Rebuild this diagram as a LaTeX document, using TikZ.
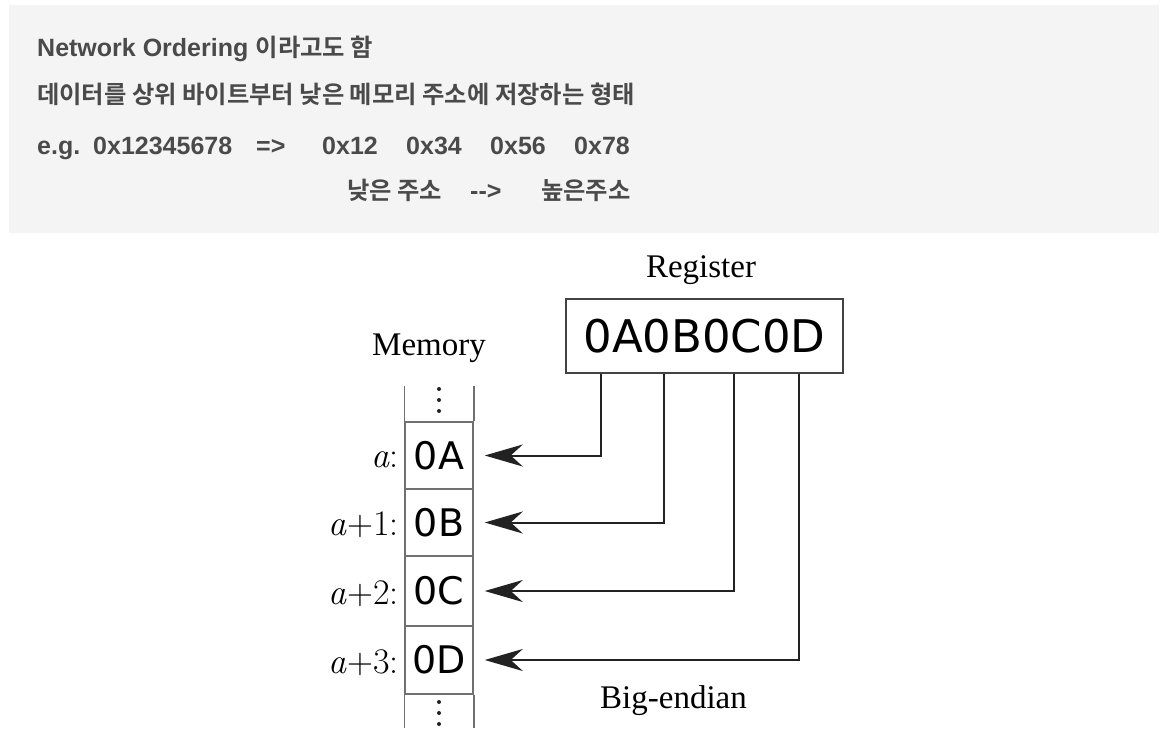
\documentclass[tikz,border=0pt]{standalone}
\usepackage{fontspec}
\usetikzlibrary{arrows.meta}
\newfontfamily\latf{Liberation Sans}
\newfontfamily\krf{Noto Sans CJK KR Bold}
\newfontfamily\serf{Liberation Serif}
\newfontfamily\djv{DejaVu Sans}
\definecolor{txt}{HTML}{4A4A4A}
\definecolor{bg}{HTML}{F4F4F4}
\definecolor{ln}{HTML}{222222}
\definecolor{cl}{HTML}{707070}
\tikzset{
  lat/.style={inner sep=0, anchor=base west, text=txt, font=\latf\bfseries\fontsize{25}{25}\selectfont},
  kor/.style={inner sep=0, anchor=base west, text=txt, font=\krf\fontsize{24.3}{24.3}\selectfont},
  serlabel/.style={inner sep=0, anchor=base, font=\serf\fontsize{33}{33}\selectfont},
  addr/.style={inner sep=0, anchor=base east, font=\fontsize{36}{36}\selectfont},
  cell/.style={draw=cl, line width=1.5pt, minimum width=68pt, inner sep=0, font=\djv\fontsize{38}{38}\selectfont},
  colline/.style={draw=cl, line width=1.5pt},
  regbox/.style={draw=ln!85!white, line width=2pt, minimum width=277pt, minimum height=74pt, inner sep=0, font=\djv\fontsize{45}{45}\selectfont},
  arr/.style={draw=ln, line width=2pt, -{Stealth[length=38pt,width=22pt,inset=12pt]}},
  vdot/.style={fill=ln}
}
\begin{document}
\begin{tikzpicture}[x=1pt,y=-1pt]
\fill[white] (0,0) rectangle (1166,730);
\useasboundingbox (0,0) rectangle (1166,730);
\fill[bg] (9,5) rectangle (1159,233);

% text block
\node[lat] (t1a) at (37,57) {Network Ordering};
\node[kor] (t1b) at ([xshift=7pt]t1a.base east) {이라고도 함};
\node[kor] (t2) at (37,104) {데이터를 상위 바이트부터 낮은 메모리 주소에 저장하는 형태};
\node[lat] (t3a) at (37,155) {e.g.};
\node[lat] (t3b) at (93,155) {0x12345678};
\node[lat] (t3c) at (256,155) {=>};
\node[lat] (t3d) at (322,155) {0x12};
\node[lat] (t3e) at (406,155) {0x34};
\node[lat] (t3f) at (490,155) {0x56};
\node[lat] (t3g) at (574,155) {0x78};
\node[kor] (t4a) at (347,200) {낮은 주소};
\node[lat] (t4b) at (470,200) {-{}->};
\node[kor] (t4c) at (541,200) {높은주소};

% diagram
\node[serlabel] (regl) at (701,277) {Register};
\node[serlabel] (meml) at (429,355) {Memory};
\node[serlabel] (big) at (673.5,708) {Big-endian};
\node[regbox] (reg) at (704.5,336) {0A0B0C0D};

\node[cell, minimum height=67pt] (c1) at (439,455.5) {0A};
\node[cell, minimum height=67pt] (c2) at (439,522.5) {0B};
\node[cell, minimum height=70pt] (c3) at (439,591) {0C};
\node[cell, minimum height=68pt] (c4) at (439,660) {0D};

\draw[colline] (c1.north west) -- ++(0,-35);
\draw[colline] (c1.north east) -- ++(0,-35);
\draw[colline] (c4.south west) -- ++(0,33);
\draw[colline] (c4.south east) -- ++(0,33);
\foreach \yy in {389,400,411,702,713,724} \fill[vdot] (439,\yy) circle (2pt);

\node[addr] (a1) at (399,467) {\textit{a}:};
\node[addr] (a2) at (399,535) {\textit{a}+1:};
\node[addr] (a3) at (399,604) {\textit{a}+2:};
\node[addr] (a4) at (399,673) {\textit{a}+3:};

\draw[arr] ([xshift=36pt]reg.south west) |- ([xshift=11pt]c1.east);
\draw[arr] ([xshift=99pt]reg.south west) |- ([xshift=11pt]c2.east);
\draw[arr] ([xshift=169pt]reg.south west) |- ([xshift=11pt]c3.east);
\draw[arr] ([xshift=234pt]reg.south west) |- ([xshift=11pt]c4.east);
\end{tikzpicture}
\end{document}
